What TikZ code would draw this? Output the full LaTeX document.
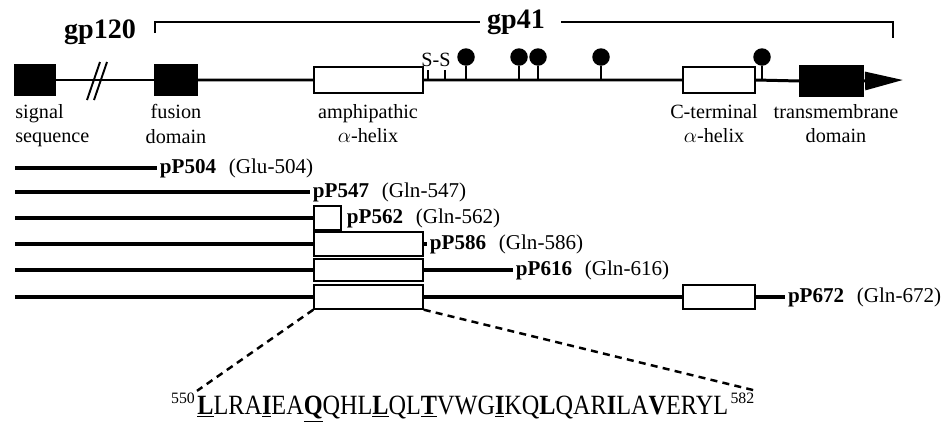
\documentclass[tikz,border=0pt]{standalone}
\usepackage{fontspec}
\setmainfont{Liberation Serif}
\usepackage{tikz}
\usetikzlibrary{arrows.meta,positioning,fit}
\newcommand{\hepu}[1]{\textbf{\underline{#1}}}

\begin{document}
\begin{tikzpicture}[x=0.02cm,y=-0.02cm,
    font=\fontsize{11.5}{14}\selectfont,
    blackbox/.style={draw,fill=black,inner sep=0pt,line width=0.6pt},
    helixbox/.style={draw,fill=white,inner sep=0pt,line width=0.8pt},
    ball/.style={circle,fill=black,inner sep=0pt,minimum size=0.35cm},
    stem/.style={line width=0.8pt},
    mainline/.style={line width=1.7pt},
    rowline/.style={line width=2pt},
    zoomline/.style={line width=1.4pt,dash pattern=on 4pt off 3pt},
    lbl/.style={align=center,inner sep=0pt},
    cname/.style={anchor=west,inner xsep=1.5pt,inner ysep=0pt,font=\fontsize{12}{14}\selectfont},
    bigtxt/.style={font=\fontsize{16}{18}\selectfont\bfseries,inner sep=0pt}]

  \useasboundingbox (0,0) rectangle (945,430);

  % gp120 / gp41 bracket
  \node[bigtxt] (gp120) at (100,32) {gp120};
  \node[bigtxt] (gp41) at (516,22) {gp41};
  \coordinate (bl) at (155,33);
  \coordinate (br) at (893,38);
  \draw[line width=0.8pt] (bl) |- ([xshift=-4pt]gp41.west);
  \draw[line width=0.8pt] ([xshift=9pt]gp41.east) -| (br);

  % precursor
  \node[blackbox,fit={(15,65) (55,95)}] (sig) {};
  \node[blackbox,fit={(155,65) (197,95)}] (fus) {};
  \node[helixbox,fit={(314,67) (423,93)}] (amph) {};
  \node[helixbox,fit={(683,67) (755,93)}] (cterm) {};
  \node[blackbox,fit={(800,66) (863,96)}] (tm) {};
  \coordinate (tip) at (903,80);

  \draw[line width=1.1pt] (sig.east) -- (fus.west);
  \draw[line width=1.1pt] (100,62) -- (87,100) (107,62) -- (94,100);
  \draw[mainline] (fus.east) -- (amph.west) (amph.east) -- (cterm.west)
                  (cterm.east) -- (tm.west);
  \draw[mainline,-{Triangle[length=0.76cm,width=0.36cm]}] (tm.east) -- (tip);

  \node[inner sep=0pt] (ss) at (436,60) {S-S};
  \foreach \x in {428,445}
    \draw[stem] (\x,70) -- (\x,80);
  \foreach \x [count=\i] in {466,519,538,601,762} {
    \node[ball] (glyc\i) at (\x,57) {};
    \draw[stem] (glyc\i) -- (glyc\i |- amph.east);
  }

  \node[lbl,anchor=north west,align=left] (sigl) at (15,104) {signal\\sequence};
  \node[lbl,anchor=north] (fusl) at (176,104) {fusion\\domain};
  \node[lbl,anchor=north] (amphl) at (368,104) {amphipathic\\$\alpha$-helix};
  \node[lbl,anchor=north] (cterml) at (714,104) {C-terminal\\$\alpha$-helix};
  \node[lbl,anchor=north] (tml) at (836,104) {transmembrane\\domain};

  % truncated constructs
  \coordinate (r1) at (15,168);
  \node[cname] (p504) at (157,168) {\textbf{pP504}\hspace{0.6em}(Glu-504)};
  \draw[rowline] (r1) -- (p504.west);

  \coordinate (r2) at (15,192);
  \node[cname] (p547) at (310,192) {\textbf{pP547}\hspace{0.6em}(Gln-547)};
  \draw[rowline] (r2) -- (p547.west);

  \coordinate (r3) at (15,218);
  \node[helixbox,fit={(314,206) (341,230)}] (b562) {};
  \node[cname] (p562) at (344,218) {\textbf{pP562}\hspace{0.6em}(Gln-562)};
  \draw[rowline] (r3) -- (b562.west);

  \coordinate (r4) at (15,244);
  \node[helixbox,fit={(314,232) (423,256)}] (b586) {};
  \node[cname] (p586) at (427,244) {\textbf{pP586}\hspace{0.6em}(Gln-586)};
  \draw[rowline] (r4) -- (b586.west) (b586.east) -- (p586.west);

  \coordinate (r5) at (15,270);
  \node[helixbox,fit={(314,259) (423,281)}] (b616) {};
  \node[cname] (p616) at (513,270) {\textbf{pP616}\hspace{0.6em}(Gln-616)};
  \draw[rowline] (r5) -- (b616.west) (b616.east) -- (p616.west);

  \coordinate (r6) at (15,297);
  \node[helixbox,fit={(314,285) (423,309)}] (b672a) {};
  \node[helixbox,fit={(683,285) (755,309)}] (b672b) {};
  \node[cname] (p672) at (785,297) {\textbf{pP672}\hspace{0.6em}(Gln-672)};
  \draw[rowline] (r6) -- (b672a.west) (b672a.east) -- (b672b.west)
                 (b672b.east) -- (p672.west);

  % heptad sequence
  \node[anchor=base west,inner sep=0pt,font=\fontsize{13.8}{16}\selectfont] (pep) at (197,414)
    {\scalebox{1}[1.15]{\hepu{L}LRA\hepu{I}EA\hepu{Q}QHL\hepu{L}QL\hepu{T}VWG\hepu{I}KQ\textbf{L}QAR\textbf{I}LA\textbf{V}ERYL}};
  \node[anchor=base east,inner sep=1pt,font=\fontsize{9}{11}\selectfont] (n550)
    at ([yshift=6pt]pep.base west) {550};
  \node[anchor=base west,inner sep=1pt,font=\fontsize{9}{11}\selectfont] (n582)
    at ([yshift=6pt]pep.base east) {582};
  \draw[zoomline] (b672a.south west) -- (n550.north east);
  \draw[zoomline] (b672a.south east) -- (n582.north east);
\end{tikzpicture}
\end{document}
